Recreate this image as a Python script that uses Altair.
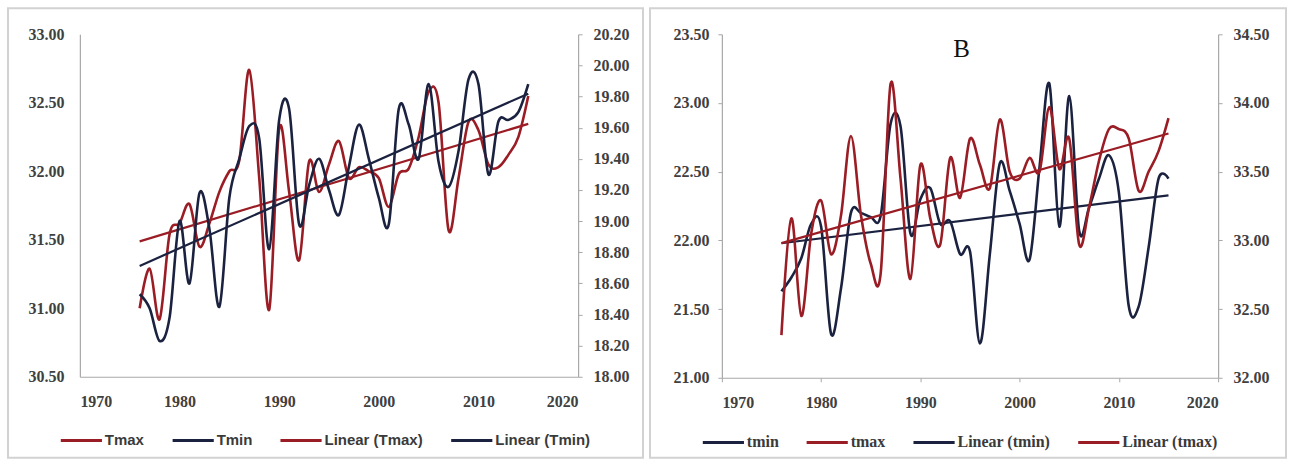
import altair as alt
import pandas as pd

years = list(range(1976, 2016))

# Panel A
tmax_a = [31.00, 31.29, 30.92, 31.54, 31.62, 31.76, 31.45, 31.62, 31.85, 32.00,
          32.08, 32.74, 31.95, 30.99, 32.31, 31.85, 31.35, 32.07, 31.85, 32.05,
          32.22, 31.95, 32.03, 32.00, 31.95, 31.74, 31.98, 32.02, 32.25, 32.58,
          32.50, 31.57, 31.95, 32.36, 32.30, 32.05, 32.03, 32.12, 32.25, 32.55]
tmin_a = [18.53, 18.44, 18.23, 18.38, 19.00, 18.60, 19.18, 18.95, 18.45, 19.15,
          19.40, 19.61, 19.53, 18.82, 19.65, 19.72, 18.98, 19.23, 19.40, 19.20,
          19.04, 19.35, 19.62, 19.40, 19.15, 18.98, 19.72, 19.62, 19.40, 19.88,
          19.38, 19.22, 19.45, 19.91, 19.88, 19.30, 19.64, 19.65, 19.70, 19.88]

# Panel B
tmin_b = [21.63, 21.73, 21.87, 22.12, 22.10, 21.32, 21.65, 22.20, 22.20, 22.17,
          22.18, 22.85, 22.83, 22.05, 22.30, 22.38, 22.12, 22.14, 21.90, 21.92,
          21.25, 21.90, 22.56, 22.36, 22.12, 21.86, 22.53, 23.14, 22.10, 23.05,
          22.07, 22.24, 22.45, 22.62, 22.35, 21.52, 21.52, 21.95, 22.45, 22.45]
tmax_b = [32.31, 33.16, 32.45, 33.05, 33.29, 32.90, 33.18, 33.76, 33.19, 32.83,
          32.76, 34.14, 33.45, 32.72, 33.55, 33.16, 32.97, 33.60, 33.31, 33.74,
          33.55, 33.38, 33.88, 33.50, 33.45, 33.60, 33.50, 33.97, 33.52, 33.74,
          32.97, 33.24, 33.58, 33.81, 33.81, 33.74, 33.36, 33.50, 33.65, 33.89]

x_ticks = [1970, 1980, 1990, 2000, 2010, 2020]
a_left_ticks = [30.5, 31.0, 31.5, 32.0, 32.5, 33.0]
a_right_ticks = [18.0, 18.2, 18.4, 18.6, 18.8, 19.0, 19.2, 19.4, 19.6, 19.8, 20.0, 20.2]
b_left_ticks = [21.0, 21.5, 22.0, 22.5, 23.0, 23.5]
b_right_ticks = [32.0, 32.5, 33.0, 33.5, 34.0, 34.5]

legend_a = ["Tmax", "Tmin", "Linear (Tmax)", "Linear (Tmin)"]
legend_b = ["tmin", "tmax", "Linear (tmin)", "Linear (tmax)"]

RED = "#9a1c24"
NAVY = "#1b2240"
AXIS = "#a8a8a8"
FRAME = "#d2d2d2"
LABEL = dict(labelFont="Liberation Serif", labelFontWeight="bold", labelFontSize=16,
             labelColor="#404040", domainColor=AXIS, tickColor=AXIS, grid=False,
             domainWidth=1.2)

df_a = pd.DataFrame({"year": years, "Tmax": tmax_a, "Tmin": tmin_a})
df_b = pd.DataFrame({"year": years, "tmin": tmin_b, "tmax": tmax_b})


def make_panel(df, width, height, left_field, left_name, left_trend, left_dom, left_vals,
               right_field, right_name, right_trend, right_dom, right_vals,
               order, colors, leg_font, leg_size, leg_x, leg_y,
               ticks_left, ticks_x, pad_left, pad_x, frame_w, extra=None):
    color = alt.Color(
        "series:N",
        scale=alt.Scale(domain=order, range=colors),
        legend=alt.Legend(
            title=None, orient="none", legendX=leg_x, legendY=leg_y,
            direction="horizontal", columns=4, symbolType="stroke",
            symbolSize=1700, symbolStrokeWidth=3, labelFont=leg_font,
            labelFontWeight="bold", labelFontSize=leg_size, labelColor="#3a3a3a",
            labelOffset=1, columnPadding=21, padding=0,
        ),
    )
    xenc = alt.X(
        "year:Q",
        scale=alt.Scale(domain=[1970, 2020], nice=False, zero=False),
        axis=alt.Axis(values=x_ticks, format="d", title=None, ticks=ticks_x,
                      tickSize=4, labelPadding=pad_x, **LABEL),
    )
    yl_axis = alt.Axis(values=left_vals, format=".2f", title=None, ticks=ticks_left,
                       tickSize=4, labelPadding=pad_left, orient="left", **LABEL)
    yr_axis = alt.Axis(values=right_vals, format=".2f", title=None, ticks=True,
                       tickSize=4, labelPadding=11, orient="right", **LABEL)
    yl_scale = alt.Scale(domain=left_dom, nice=False, zero=False)
    yr_scale = alt.Scale(domain=right_dom, nice=False, zero=False)

    base = alt.Chart(df)
    lcolor = colors[order.index(left_name)]
    rcolor = colors[order.index(right_name)]

    left_line = base.transform_calculate(series=f"'{left_name}'").mark_line(
        interpolate="cardinal", strokeWidth=2.6, color=lcolor
    ).encode(x=xenc, y=alt.Y(f"{left_field}:Q", scale=yl_scale, axis=yl_axis), color=color)
    left_reg = base.transform_regression("year", left_field).transform_calculate(
        series=f"'{left_trend}'"
    ).mark_line(strokeWidth=2.2, color=lcolor).encode(
        x=xenc, y=alt.Y(f"{left_field}:Q", scale=yl_scale, axis=yl_axis), color=color)

    right_line = base.transform_calculate(series=f"'{right_name}'").mark_line(
        interpolate="cardinal", strokeWidth=2.6, color=rcolor
    ).encode(x=xenc, y=alt.Y(f"{right_field}:Q", scale=yr_scale, axis=yr_axis), color=color)
    right_reg = base.transform_regression("year", right_field).transform_calculate(
        series=f"'{right_trend}'"
    ).mark_line(strokeWidth=2.2, color=rcolor).encode(
        x=xenc, y=alt.Y(f"{right_field}:Q", scale=yr_scale, axis=yr_axis), color=color)

    frame = alt.Chart(pd.DataFrame({"f": [0]})).mark_rect(
        filled=False, stroke=FRAME, strokeWidth=2
    ).encode(x=alt.value(-72), x2=alt.value(frame_w), y=alt.value(-26), y2=alt.value(424))

    layers = [frame, alt.layer(left_line, left_reg), alt.layer(right_line, right_reg)]
    if extra is not None:
        layers.append(extra)
    return alt.layer(*layers).resolve_scale(y="independent").properties(
        width=width, height=height)


panel_a = make_panel(
    df_a, 499, 343, "Tmax", "Tmax", "Linear (Tmax)", [30.5, 33.0], a_left_ticks,
    "Tmin", "Tmin", "Linear (Tmin)", [18.0, 20.2], a_right_ticks,
    legend_a, [RED, NAVY, RED, NAVY], "Liberation Sans", 15, -21, 384,
    False, False, 16, 17, 564,
)

b_label = alt.Chart(pd.DataFrame({"label": ["B"]})).mark_text(
    font="Liberation Serif", fontSize=25, color="#111111", baseline="middle", align="center"
).encode(text="label:N", x=alt.value(240), y=alt.value(15))

panel_b = make_panel(
    df_b, 497, 344, "tmin", "tmin", "Linear (tmin)", [21.0, 23.5], b_left_ticks,
    "tmax", "tmax", "Linear (tmax)", [32.0, 34.5], b_right_ticks,
    legend_b, [NAVY, RED, NAVY, RED], "Liberation Serif", 16, -21, 386,
    True, True, 9, 13, 565, extra=b_label,
)

chart = alt.hconcat(panel_a, panel_b, spacing=5).resolve_scale(
    color="independent", x="independent"
).resolve_legend(color="independent").properties(
    padding={"left": 7, "top": 7, "right": 4, "bottom": 4},
    background="white",
).configure_view(stroke=None)

chart.save("out.html", embed_options={"renderer": "svg", "actions": False})
